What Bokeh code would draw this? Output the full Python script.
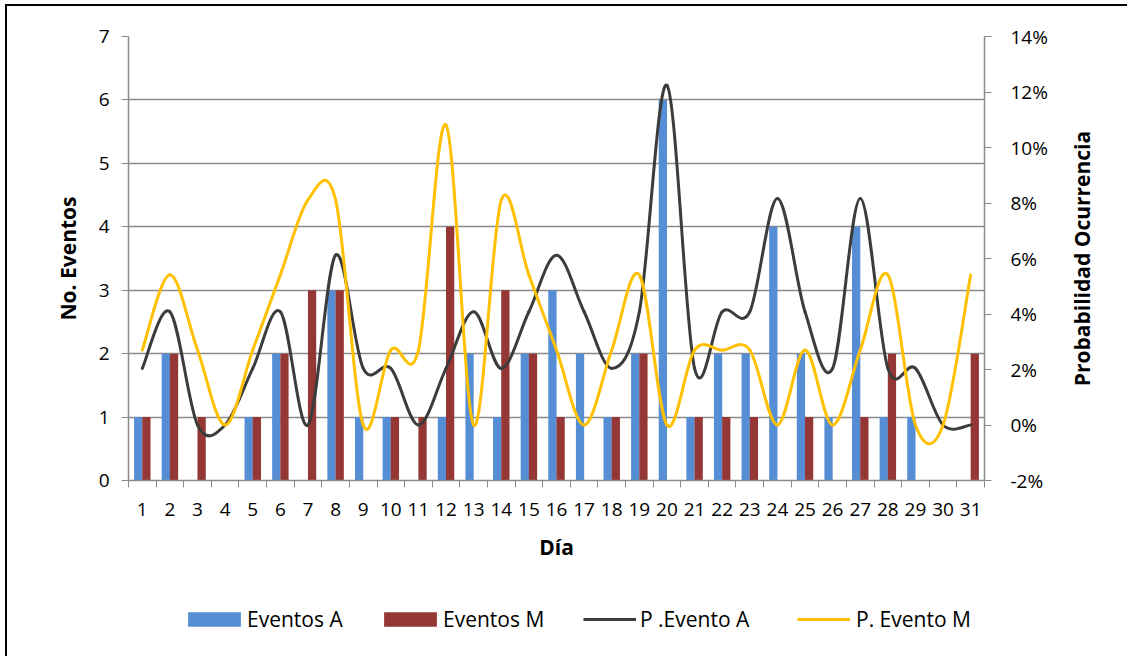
from bokeh.plotting import figure
from bokeh.layouts import column, row
from bokeh.models import (ColumnDataSource, Range1d, LinearAxis, FixedTicker,
                          NumeralTickFormatter, Legend, LegendItem)
from bokeh.transform import dodge
from bokeh.embed import file_html
from bokeh.resources import INLINE

# ---------------- data ----------------
dias = [1, 2, 3, 4, 5, 6, 7, 8, 9, 10, 11, 12, 13, 14, 15, 16,
        17, 18, 19, 20, 21, 22, 23, 24, 25, 26, 27, 28, 29, 30, 31]
dia_labels = [str(d) for d in dias]
eventos_a = [1, 2, 0, 0, 1, 2, 0, 3, 1, 1, 0, 1, 2, 1, 2, 3,
             2, 1, 2, 6, 1, 2, 2, 4, 2, 1, 4, 1, 1, 0, 0]
eventos_m = [1, 2, 1, 0, 1, 2, 3, 3, 0, 1, 1, 4, 0, 3, 2, 1,
             0, 1, 2, 0, 1, 1, 1, 0, 1, 0, 1, 2, 0, 0, 2]
p_evento_a = [0.0204, 0.0408, 0.0, 0.0, 0.0204, 0.0408, 0.0, 0.0612, 0.0204, 0.0204,
              0.0, 0.0204, 0.0408, 0.0204, 0.0408, 0.0612, 0.0408, 0.0204, 0.0408, 0.1224,
              0.0204, 0.0408, 0.0408, 0.0816, 0.0408, 0.0204, 0.0816, 0.0204, 0.0204, 0.0, 0.0]
p_evento_m = [0.027, 0.0541, 0.027, 0.0, 0.027, 0.0541, 0.0811, 0.0811, 0.0, 0.027,
              0.027, 0.1081, 0.0, 0.0811, 0.0541, 0.027, 0.0, 0.027, 0.0541, 0.0,
              0.027, 0.027, 0.027, 0.0, 0.027, 0.0, 0.027, 0.0541, 0.0, 0.0, 0.0541]
left_ticks = [0, 1, 2, 3, 4, 5, 6, 7]
right_ticks = [-0.02, 0.0, 0.02, 0.04, 0.06, 0.08, 0.10, 0.12, 0.14]
series_names = ["Eventos A", "Eventos M", "P .Evento A", "P. Evento M"]

# ---------------- styling ----------------
BLUE = "#558ED5"
RED = "#953735"
DARK = "#3c3c3c"
YELLOW = "#FFC000"
GRID = "#8a8a8a"
FONT = "Open Sans"

MAIN_W = 1052
p = figure(width=MAIN_W, height=580, output_backend="svg", toolbar_location=None,
           x_range=Range1d(0.5, 31.5), y_range=Range1d(0, 7),
           min_border_left=121, min_border_right=75, min_border_top=30,
           min_border_bottom=106)
p.extra_y_ranges = {"pct": Range1d(-0.02, 0.14)}
p.outline_line_color = None

src = ColumnDataSource(dict(dia=dias, a=eventos_a, m=eventos_m,
                            pa=p_evento_a, pm=p_evento_m))
p.vbar(x=dodge("dia", -0.148), top="a", width=0.3, bottom=0, source=src,
       fill_color=BLUE, line_color=None)
p.vbar(x=dodge("dia", 0.148), top="m", width=0.3, bottom=0, source=src,
       fill_color=RED, line_color=None)


def smooth_segments(xs, ys):
    n = len(xs)
    seg = dict(x0=[], y0=[], x1=[], y1=[], cx0=[], cy0=[], cx1=[], cy1=[])
    for i in range(n - 1):
        i0 = max(i - 1, 0)
        i3 = min(i + 2, n - 1)
        x0, y0 = xs[i0], ys[i0]
        x1, y1 = xs[i], ys[i]
        x2, y2 = xs[i + 1], ys[i + 1]
        x3, y3 = xs[i3], ys[i3]
        seg["x0"].append(x1); seg["y0"].append(y1)
        seg["x1"].append(x2); seg["y1"].append(y2)
        seg["cx0"].append(x1 + (x2 - x0) / 6.0); seg["cy0"].append(y1 + (y2 - y0) / 6.0)
        seg["cx1"].append(x2 - (x3 - x1) / 6.0); seg["cy1"].append(y2 - (y3 - y1) / 6.0)
    return ColumnDataSource(seg)


p.bezier(x0="x0", y0="y0", x1="x1", y1="y1", cx0="cx0", cy0="cy0",
         cx1="cx1", cy1="cy1", source=smooth_segments(dias, p_evento_a),
         line_color=DARK, line_width=3, line_cap="round", y_range_name="pct")
p.bezier(x0="x0", y0="y0", x1="x1", y1="y1", cx0="cx0", cy0="cy0",
         cx1="cx1", cy1="cy1", source=smooth_segments(dias, p_evento_m),
         line_color=YELLOW, line_width=3, line_cap="round", y_range_name="pct")

# ---------------- axes ----------------
p.xgrid.grid_line_color = None
p.ygrid.grid_line_color = GRID
p.ygrid.grid_line_width = 1.5
p.ygrid.ticker = FixedTicker(ticks=left_ticks)

xa = p.xaxis[0]
xa.ticker = FixedTicker(ticks=dias, minor_ticks=[d + 0.5 for d in [0] + dias])
xa.major_label_overrides = {d: s for d, s in zip(dias, dia_labels)}
xa.major_tick_out = 0
xa.major_tick_in = 0
xa.minor_tick_out = 7
xa.minor_tick_in = 0
xa.minor_tick_line_color = GRID
xa.axis_line_color = GRID
xa.axis_line_width = 1.5
xa.major_label_standoff = 15
xa.major_label_text_font = FONT
xa.major_label_text_font_size = "19px"
xa.major_label_text_color = "black"
xa.axis_label = "Día"
xa.axis_label_text_font = FONT
xa.axis_label_text_font_style = "bold"
xa.axis_label_text_font_size = "21px"
xa.axis_label_text_color = "black"
xa.axis_label_standoff = 14

ya = p.yaxis[0]
ya.ticker = FixedTicker(ticks=left_ticks)
ya.major_tick_out = 7
ya.major_tick_in = 0
ya.minor_tick_line_color = None
ya.major_tick_line_color = GRID
ya.axis_line_color = GRID
ya.axis_line_width = 1.5
ya.major_label_standoff = 12
ya.major_label_text_font = FONT
ya.major_label_text_font_size = "19px"
ya.major_label_text_color = "black"
ya.axis_label = "No. Eventos"
ya.axis_label_text_font = FONT
ya.axis_label_text_font_style = "bold"
ya.axis_label_text_font_size = "21px"
ya.axis_label_text_color = "black"
ya.axis_label_standoff = 14

ra = LinearAxis(y_range_name="pct", ticker=FixedTicker(ticks=right_ticks),
                formatter=NumeralTickFormatter(format="0%"))
ra.major_tick_out = 7
ra.major_tick_in = 0
ra.minor_tick_line_color = None
ra.major_tick_line_color = GRID
ra.axis_line_color = GRID
ra.axis_line_width = 1.5
ra.major_label_standoff = 19
ra.major_label_text_font = FONT
ra.major_label_text_font_size = "19px"
ra.major_label_text_color = "black"
p.add_layout(ra, "right")

# ---------------- right-hand title strip (reads bottom to top) ----------------
side = figure(width=68, height=580, output_backend="svg", toolbar_location=None,
              x_range=Range1d(0, 1), y_range=Range1d(-0.02, 0.14),
              x_axis_location=None, y_axis_location="left",
              min_border_left=36, min_border_right=0, min_border_top=30,
              min_border_bottom=106)
side.outline_line_color = None
side.grid.visible = False
sa = side.yaxis[0]
sa.ticker = FixedTicker(ticks=[])
sa.axis_line_color = None
sa.major_tick_line_color = None
sa.minor_tick_line_color = None
sa.axis_label = "Probabilidad Ocurrencia"
sa.axis_label_text_font = FONT
sa.axis_label_text_font_style = "bold"
sa.axis_label_text_font_size = "21px"
sa.axis_label_text_color = "black"
sa.axis_label_standoff = 0

# ---------------- legend (strip under the chart) ----------------
# The legend strip reuses the chart's data, viewed through a range where no mark falls,
# so only the legend entries show. Its frame is aligned with the chart's frame.
leg = figure(width=MAIN_W, height=70, output_backend="svg", toolbar_location=None,
             x_range=Range1d(40, 80), y_range=Range1d(10, 20),
             x_axis_location=None, y_axis_location=None,
             min_border_left=121, min_border_right=75, min_border_top=0,
             min_border_bottom=0)
leg.outline_line_color = None
leg.xgrid.visible = False
leg.ygrid.visible = False

k_a = leg.vbar(x="dia", top="a", width=0.3, source=src, fill_color=BLUE, line_color=None)
k_m = leg.vbar(x="dia", top="m", width=0.3, source=src, fill_color=RED, line_color=None)
k_pa = leg.line(x="dia", y="pa", source=src, line_color=DARK, line_width=3)
k_pm = leg.line(x="dia", y="pm", source=src, line_color=YELLOW, line_width=3)

specs = [(k_a, 53, 66, 18, 0), (k_m, 249, 66, 18, 0),
         (k_pa, 455, 53, 18, 4), (k_pm, 669, 53, 18, 6)]
for (rend, lx, gw, gh, so), name in zip(specs, series_names):
    lg = Legend(items=[LegendItem(label=name, renderers=[rend])],
                location=(lx, 23), glyph_width=gw, glyph_height=gh,
                label_standoff=so, padding=0, margin=0, border_line_color=None,
                background_fill_alpha=0, label_text_font=FONT,
                label_text_font_size="21px", label_text_color="black")
    leg.add_layout(lg, "center")

layout = row(column(p, leg, spacing=0), side, spacing=0,
             styles={"border-top": "2px solid black",
                     "border-left": "2px solid black",
                     "margin-left": "5px", "margin-top": "4px"})

open("out.html", "w").write(file_html(layout, INLINE))
